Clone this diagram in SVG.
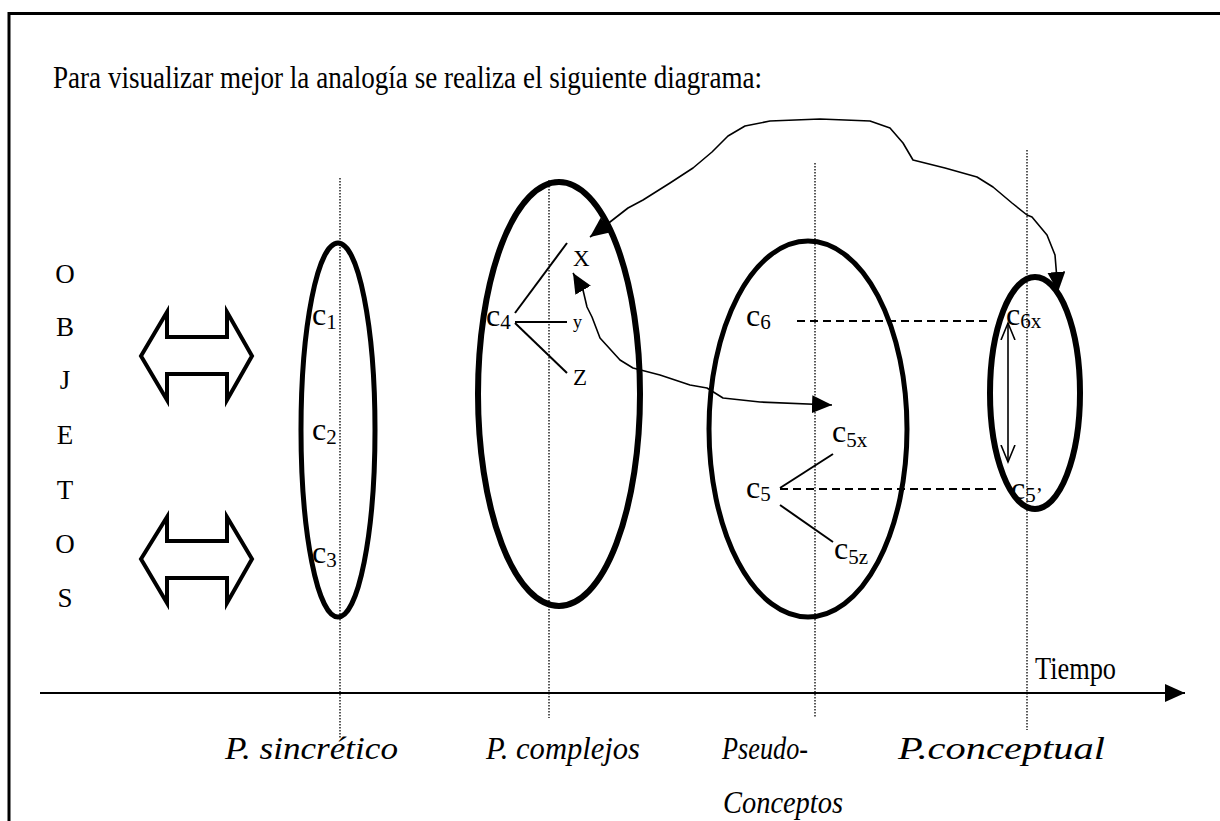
<svg xmlns="http://www.w3.org/2000/svg" width="1220" height="821" viewBox="0 0 1220 821" font-family="'Liberation Serif', 'DejaVu Serif', serif">
<style>
text{font-family:"Liberation Serif","DejaVu Serif",serif;fill:#000}
.obj{font-size:27px;text-anchor:middle}
.lab{font-size:32px;font-style:italic}
.c{font-size:32px}
.sub{font-size:21px}
.dot{stroke:#000;stroke-width:1.3;stroke-dasharray:1.5 1.5;fill:none}
.dash{stroke:#000;stroke-width:2;stroke-dasharray:8 5;fill:none}
.ell{fill:none;stroke:#000}
.thin{stroke:#000;stroke-width:2;fill:none}
.curve{stroke:#000;stroke-width:1.6;fill:none;stroke-linejoin:round}
.dbl{fill:#fff;stroke:#000;stroke-width:4;stroke-linejoin:miter}
</style>
<defs>
<marker id="tri" markerUnits="userSpaceOnUse" markerWidth="22" markerHeight="18" refX="20" refY="9" orient="auto-start-reverse">
<path d="M0,0 L20,9 L0,18 z" fill="#000"/>
</marker>
<marker id="vee" markerUnits="userSpaceOnUse" markerWidth="20" markerHeight="16" refX="17" refY="8" orient="auto-start-reverse">
<path d="M0,1 L17,8 L0,15" fill="none" stroke="#000" stroke-width="1.6"/>
</marker>
<marker id="axis" markerUnits="userSpaceOnUse" markerWidth="22" markerHeight="20" refX="20" refY="10" orient="auto">
<path d="M0,1 L20,10 L0,19 z" fill="#000"/>
</marker>
</defs>
<rect width="1220" height="821" fill="#fff"/>
<path d="M9,821 V13.5 H1220" fill="none" stroke="#000" stroke-width="3"/>
<text x="53" y="88" font-size="32" textLength="709" lengthAdjust="spacingAndGlyphs">Para visualizar mejor la analogía se realiza el siguiente diagrama:</text>

<g id="objetos">
<text class="obj" x="65" y="283">O</text>
<text class="obj" x="65" y="336">B</text>
<text class="obj" x="65" y="389">J</text>
<text class="obj" x="65" y="444">E</text>
<text class="obj" x="65" y="499">T</text>
<text class="obj" x="65" y="553">O</text>
<text class="obj" x="65" y="607">S</text>
</g>

<g id="double-arrows">
<polygon class="dbl" points="141,356 167,312 167,337 227,337 227,312 252,356 227,400 227,374 167,374 167,400"/>
<polygon class="dbl" points="141,559 167,517 167,541 227,541 227,517 252,559 227,603 227,578 167,578 167,603"/>
</g>

<g id="guides">
<line class="dot" x1="340" y1="178" x2="340" y2="738"/>
<line class="dot" x1="549" y1="180" x2="549" y2="718"/>
<line class="dot" x1="815" y1="163" x2="815" y2="718"/>
<line class="dot" x1="1027" y1="150" x2="1027" y2="730"/>
</g>

<g id="sincretico">
<ellipse class="ell" stroke-width="5" cx="338" cy="430" rx="37" ry="187"/>
<text class="c" x="312" y="325">c<tspan class="sub" dy="4">1</tspan></text>
<text class="c" x="312" y="440">c<tspan class="sub" dy="4">2</tspan></text>
<text class="c" x="312" y="563">c<tspan class="sub" dy="4">3</tspan></text>
</g>

<g id="complejos">
<ellipse class="ell" stroke-width="6" cx="559" cy="394" rx="81" ry="212"/>
<text class="c" x="486" y="326">c<tspan class="sub" dy="3">4</tspan></text>
<line class="thin" x1="515" y1="313" x2="567" y2="243"/>
<line class="thin" x1="515" y1="322" x2="567" y2="322"/>
<line class="thin" x1="515" y1="323" x2="567" y2="373"/>
<text x="573" y="266" font-size="23">X</text>
<text x="573" y="328" font-size="18">y</text>
<text x="573" y="385" font-size="23">Z</text>
</g>

<g id="pseudo">
<ellipse class="ell" stroke-width="5" cx="808" cy="429" rx="99" ry="188"/>
<text class="c" x="746" y="326">c<tspan class="sub" dy="3">6</tspan></text>
<text class="c" x="832" y="442">c<tspan class="sub" dy="5">5x</tspan></text>
<text class="c" x="746" y="498">c<tspan class="sub" dy="3">5</tspan></text>
<text class="c" x="834" y="559">c<tspan class="sub" dy="5">5z</tspan></text>
<line class="thin" x1="780" y1="488" x2="833" y2="454"/>
<line class="thin" x1="780" y1="505" x2="833" y2="542"/>
</g>

<g id="conceptual">
<ellipse class="ell" stroke-width="6" cx="1035" cy="393" rx="45" ry="116"/>
<text class="c" x="1006" y="325">c<tspan class="sub" dy="3">6x</tspan></text>
<text class="c" x="1011" y="499">c<tspan class="sub" dy="3">5’</tspan></text>
</g>

<g id="connectors">
<line class="dash" x1="797" y1="321" x2="990" y2="321"/>
<line class="dash" x1="780" y1="489" x2="1000" y2="489"/>
<path class="curve" d="M590,237 L610,222 L628,208 L643,200 L670,183 L693,168 L712,152 L728,136 L745,126 L770,121 L820,119 L870,121 L890,128 L903,143 L913,160 L945,168 L977,177 L993,187 L1012,203 L1027,215 L1032,217 L1047,235 L1055,255 L1058,292" marker-start="url(#tri)" marker-end="url(#tri)"/>
<path class="curve" d="M573,273 L583,290 L587,307 L592,317 L600,338 L620,360 L633,368 L660,375 L690,385 L707,388 L723,398 L760,402 L832,405" marker-start="url(#tri)" marker-end="url(#tri)"/>
<line x1="1008" y1="323" x2="1008" y2="462" stroke="#000" stroke-width="1.6" marker-start="url(#vee)" marker-end="url(#vee)"/>
</g>

<g id="timeline">
<line x1="40" y1="693" x2="1185" y2="693" stroke="#000" stroke-width="2.2" marker-end="url(#axis)"/>
<text x="1035" y="679" font-size="31" textLength="81" lengthAdjust="spacingAndGlyphs">Tiempo</text>
<text class="lab" x="225" y="759" textLength="173" lengthAdjust="spacingAndGlyphs">P. sincrético</text>
<text class="lab" x="486" y="759" textLength="154" lengthAdjust="spacingAndGlyphs">P. complejos</text>
<text class="lab" x="722" y="759" textLength="86" lengthAdjust="spacingAndGlyphs">Pseudo-</text>
<text class="lab" x="898" y="759" textLength="207" lengthAdjust="spacingAndGlyphs">P.conceptual</text>
<text class="lab" x="723" y="813" textLength="120" lengthAdjust="spacingAndGlyphs">Conceptos</text>
</g>
</svg>
